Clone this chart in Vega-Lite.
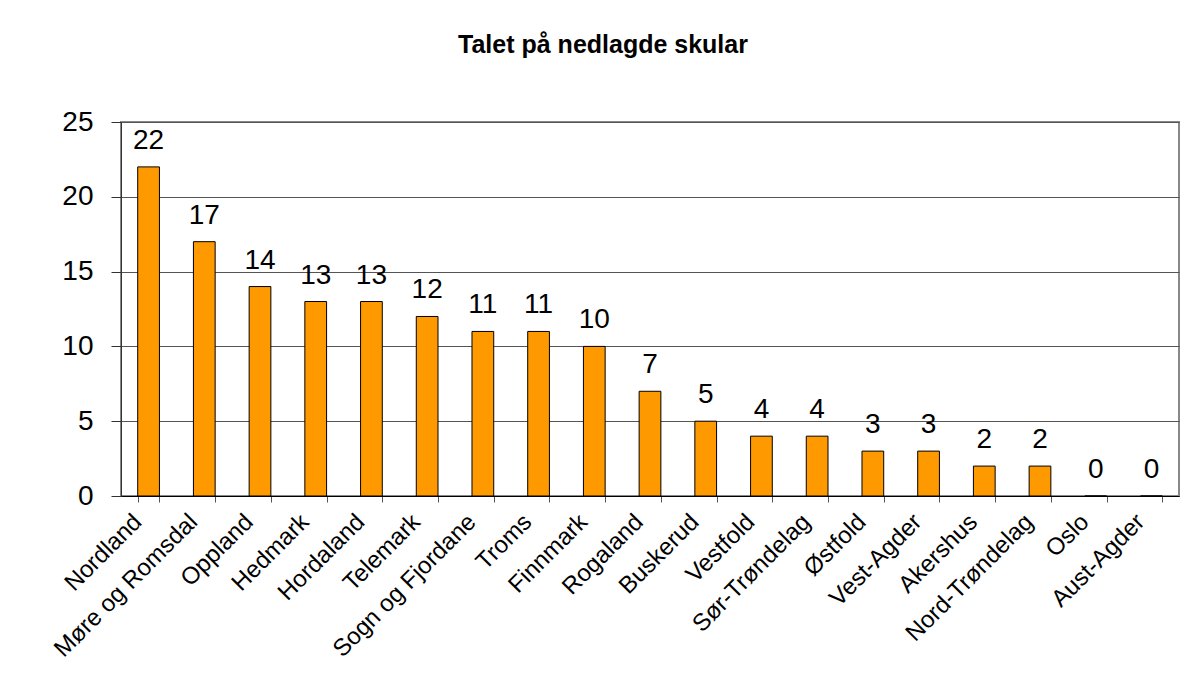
{
  "$schema": "https://vega.github.io/schema/vega-lite/v6.json",
  "autosize": "none",
  "width": 1058,
  "height": 374,
  "padding": {"left": 121, "top": 122, "right": 5, "bottom": 188},
  "background": "white",
  "title": {
    "text": "Talet på nedlagde skular",
    "font": "Liberation Sans",
    "fontSize": 25,
    "fontWeight": "bold",
    "color": "black",
    "anchor": "middle",
    "dx": -47,
    "offset": 50
  },
  "data": {
    "values": [
      {"fylke": "Nordland", "skular": 22},
      {"fylke": "Møre og Romsdal", "skular": 17},
      {"fylke": "Oppland", "skular": 14},
      {"fylke": "Hedmark", "skular": 13},
      {"fylke": "Hordaland", "skular": 13},
      {"fylke": "Telemark", "skular": 12},
      {"fylke": "Sogn og Fjordane", "skular": 11},
      {"fylke": "Troms", "skular": 11},
      {"fylke": "Finnmark", "skular": 10},
      {"fylke": "Rogaland", "skular": 7},
      {"fylke": "Buskerud", "skular": 5},
      {"fylke": "Vestfold", "skular": 4},
      {"fylke": "Sør-Trøndelag", "skular": 4},
      {"fylke": "Østfold", "skular": 3},
      {"fylke": "Vest-Agder", "skular": 3},
      {"fylke": "Akershus", "skular": 2},
      {"fylke": "Nord-Trøndelag", "skular": 2},
      {"fylke": "Oslo", "skular": 0},
      {"fylke": "Aust-Agder", "skular": 0}
    ]
  },
  "encoding": {
    "x": {
      "field": "fylke",
      "type": "nominal",
      "sort": null,
      "scale": {"paddingInner": 0.61, "paddingOuter": 0.3},
      "axis": {
        "title": null,
        "labelAngle": -45,
        "labelAlign": "right",
        "labelBaseline": "middle",
        "labelFont": "Liberation Sans",
        "labelFontSize": 24,
        "labelColor": "black",
        "labelPadding": 16,
        "labelOffset": -11,
        "labelLimit": 0,
        "tickBand": "extent",
        "tickSize": 6,
        "tickColor": "#555",
        "domainColor": "black",
        "labelOverlap": false,
        "grid": false
      }
    },
    "y": {
      "field": "skular",
      "type": "quantitative",
      "scale": {"domain": [0, 25], "nice": false},
      "axis": {
        "title": null,
        "values": [0, 5, 10, 15, 20, 25],
        "labelFont": "Liberation Sans",
        "labelFontSize": 28,
        "labelColor": "black",
        "tickSize": 10,
        "tickColor": "#333",
        "labelPadding": 18,
        "domainColor": "#333",
        "grid": true,
        "gridColor": "#555",
        "gridWidth": 1
      }
    }
  },
  "layer": [
    {
      "mark": {"type": "bar", "color": "#FF9900", "stroke": "black", "strokeWidth": 1}
    },
    {
      "mark": {
        "type": "text",
        "font": "Liberation Sans",
        "fontSize": 28,
        "color": "black",
        "baseline": "middle",
        "dy": -26
      },
      "encoding": {"text": {"field": "skular", "type": "quantitative"}}
    }
  ],
  "config": {
    "view": {"stroke": "#888", "strokeWidth": 2}
  }
}
